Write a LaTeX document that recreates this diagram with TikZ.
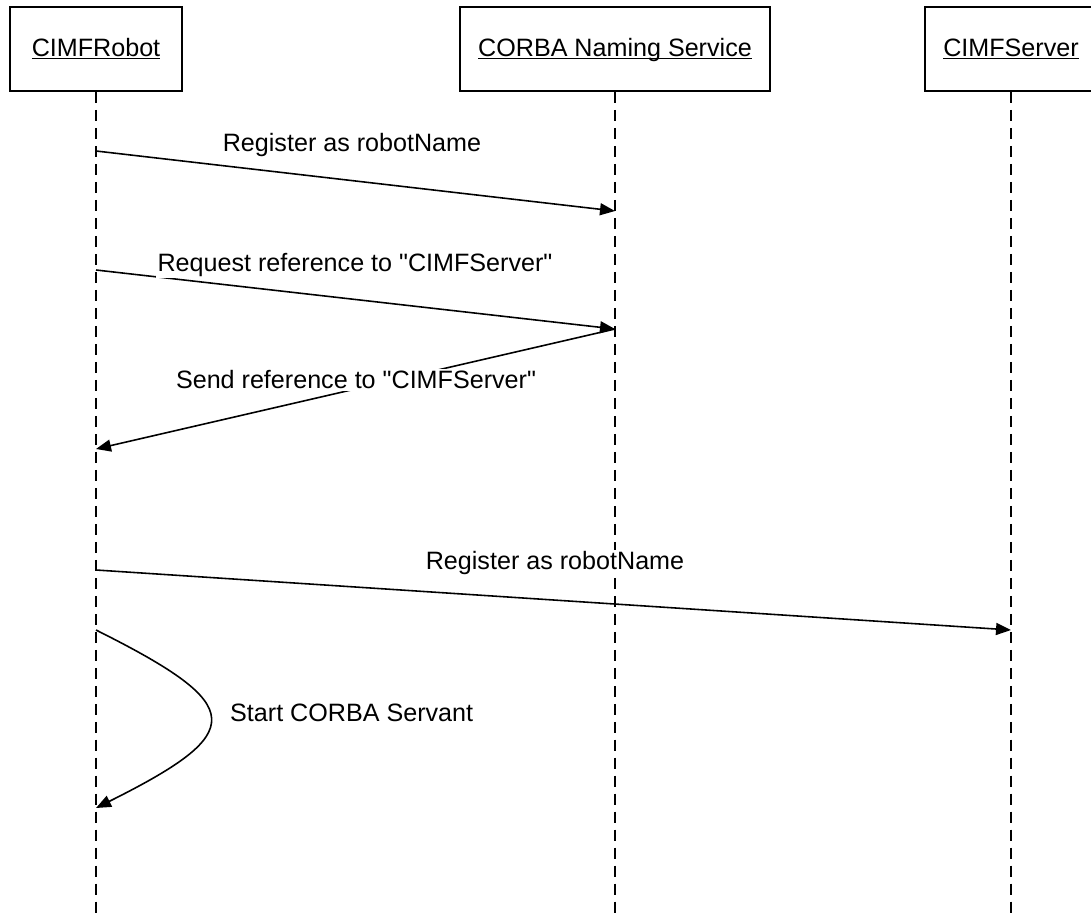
\documentclass[tikz,border=0pt]{standalone}
\usepackage{fontspec}
\setmainfont{Liberation Sans}
\usetikzlibrary{arrows.meta}
\newcommand{\ulname}[1]{\underline{\raisebox{0pt}[\height][0pt]{#1}}}
\tikzset{
	actor/.style={draw, line width=1pt, minimum height=1.68cm, inner sep=0pt},
	lifeline/.style={line width=0.8pt, dash pattern=on 0.22cm off 0.14cm},
	msg/.style={line width=0.9pt, -{Triangle[length=0.3cm, width=0.24cm]}},
	msglabel/.style={fill=white, inner sep=1pt},
}
\begin{document}
\begin{tikzpicture}[x=0.02cm, y=-0.02cm, every node/.style={font=\fontsize{14.3pt}{16pt}\selectfont}]
		\clip (0,0) rectangle (1091,915);
		\node[actor, minimum width=3.44cm](Robot) at (96,49){\ulname{CIMFRobot}};
		\node[actor, minimum width=6.2cm](Naming) at (615,49){\ulname{CORBA Naming Service}};
		\node[actor, minimum width=3.44cm](Server) at (1011,49){\ulname{CIMFServer}};
		
		\coordinate (RobotEnd) at (96,915);
		\coordinate (NamingEnd) at (615,915);
		\coordinate (ServerEnd) at (1011,915);
		
		\draw[lifeline] (Robot) -- (RobotEnd);
		\draw[lifeline] (Naming) -- (NamingEnd);
		\draw[lifeline] (Server) -- (ServerEnd);
		
		\coordinate (R1) at (96,151);
		\coordinate (N1) at (615,211);
		\draw[msg] (R1) -- (N1);
		\node[msglabel](L1) at (352,145){Register as robotName};
		
		\coordinate (R2) at (96,270);
		\coordinate (N2) at (615,329);
		\coordinate (R3) at (96,449);
		\draw[msg] (R2) -- (N2);
		\draw[msg] (N2) -- (R3);
		\node[msglabel](L2) at (355,265){Request reference to \textquotedbl CIMFServer\textquotedbl};
		\node[msglabel](L3) at (356,380){Send reference to \textquotedbl CIMFServer\textquotedbl};
		
		\coordinate (R4) at (96,570);
		\coordinate (S4) at (1011,630);
		\draw[msg] (R4) -- (S4);
		\node[msglabel](L4) at (555,563){Register as robotName};
		
		\coordinate (R5) at (96,630);
		\coordinate (R6) at (96,808);
		\draw[msg] (R5) .. controls (248,706) and (248,732) .. (R6);
		\node[anchor=west](L5) at (224,713){Start CORBA Servant};
\end{tikzpicture}
\end{document}
